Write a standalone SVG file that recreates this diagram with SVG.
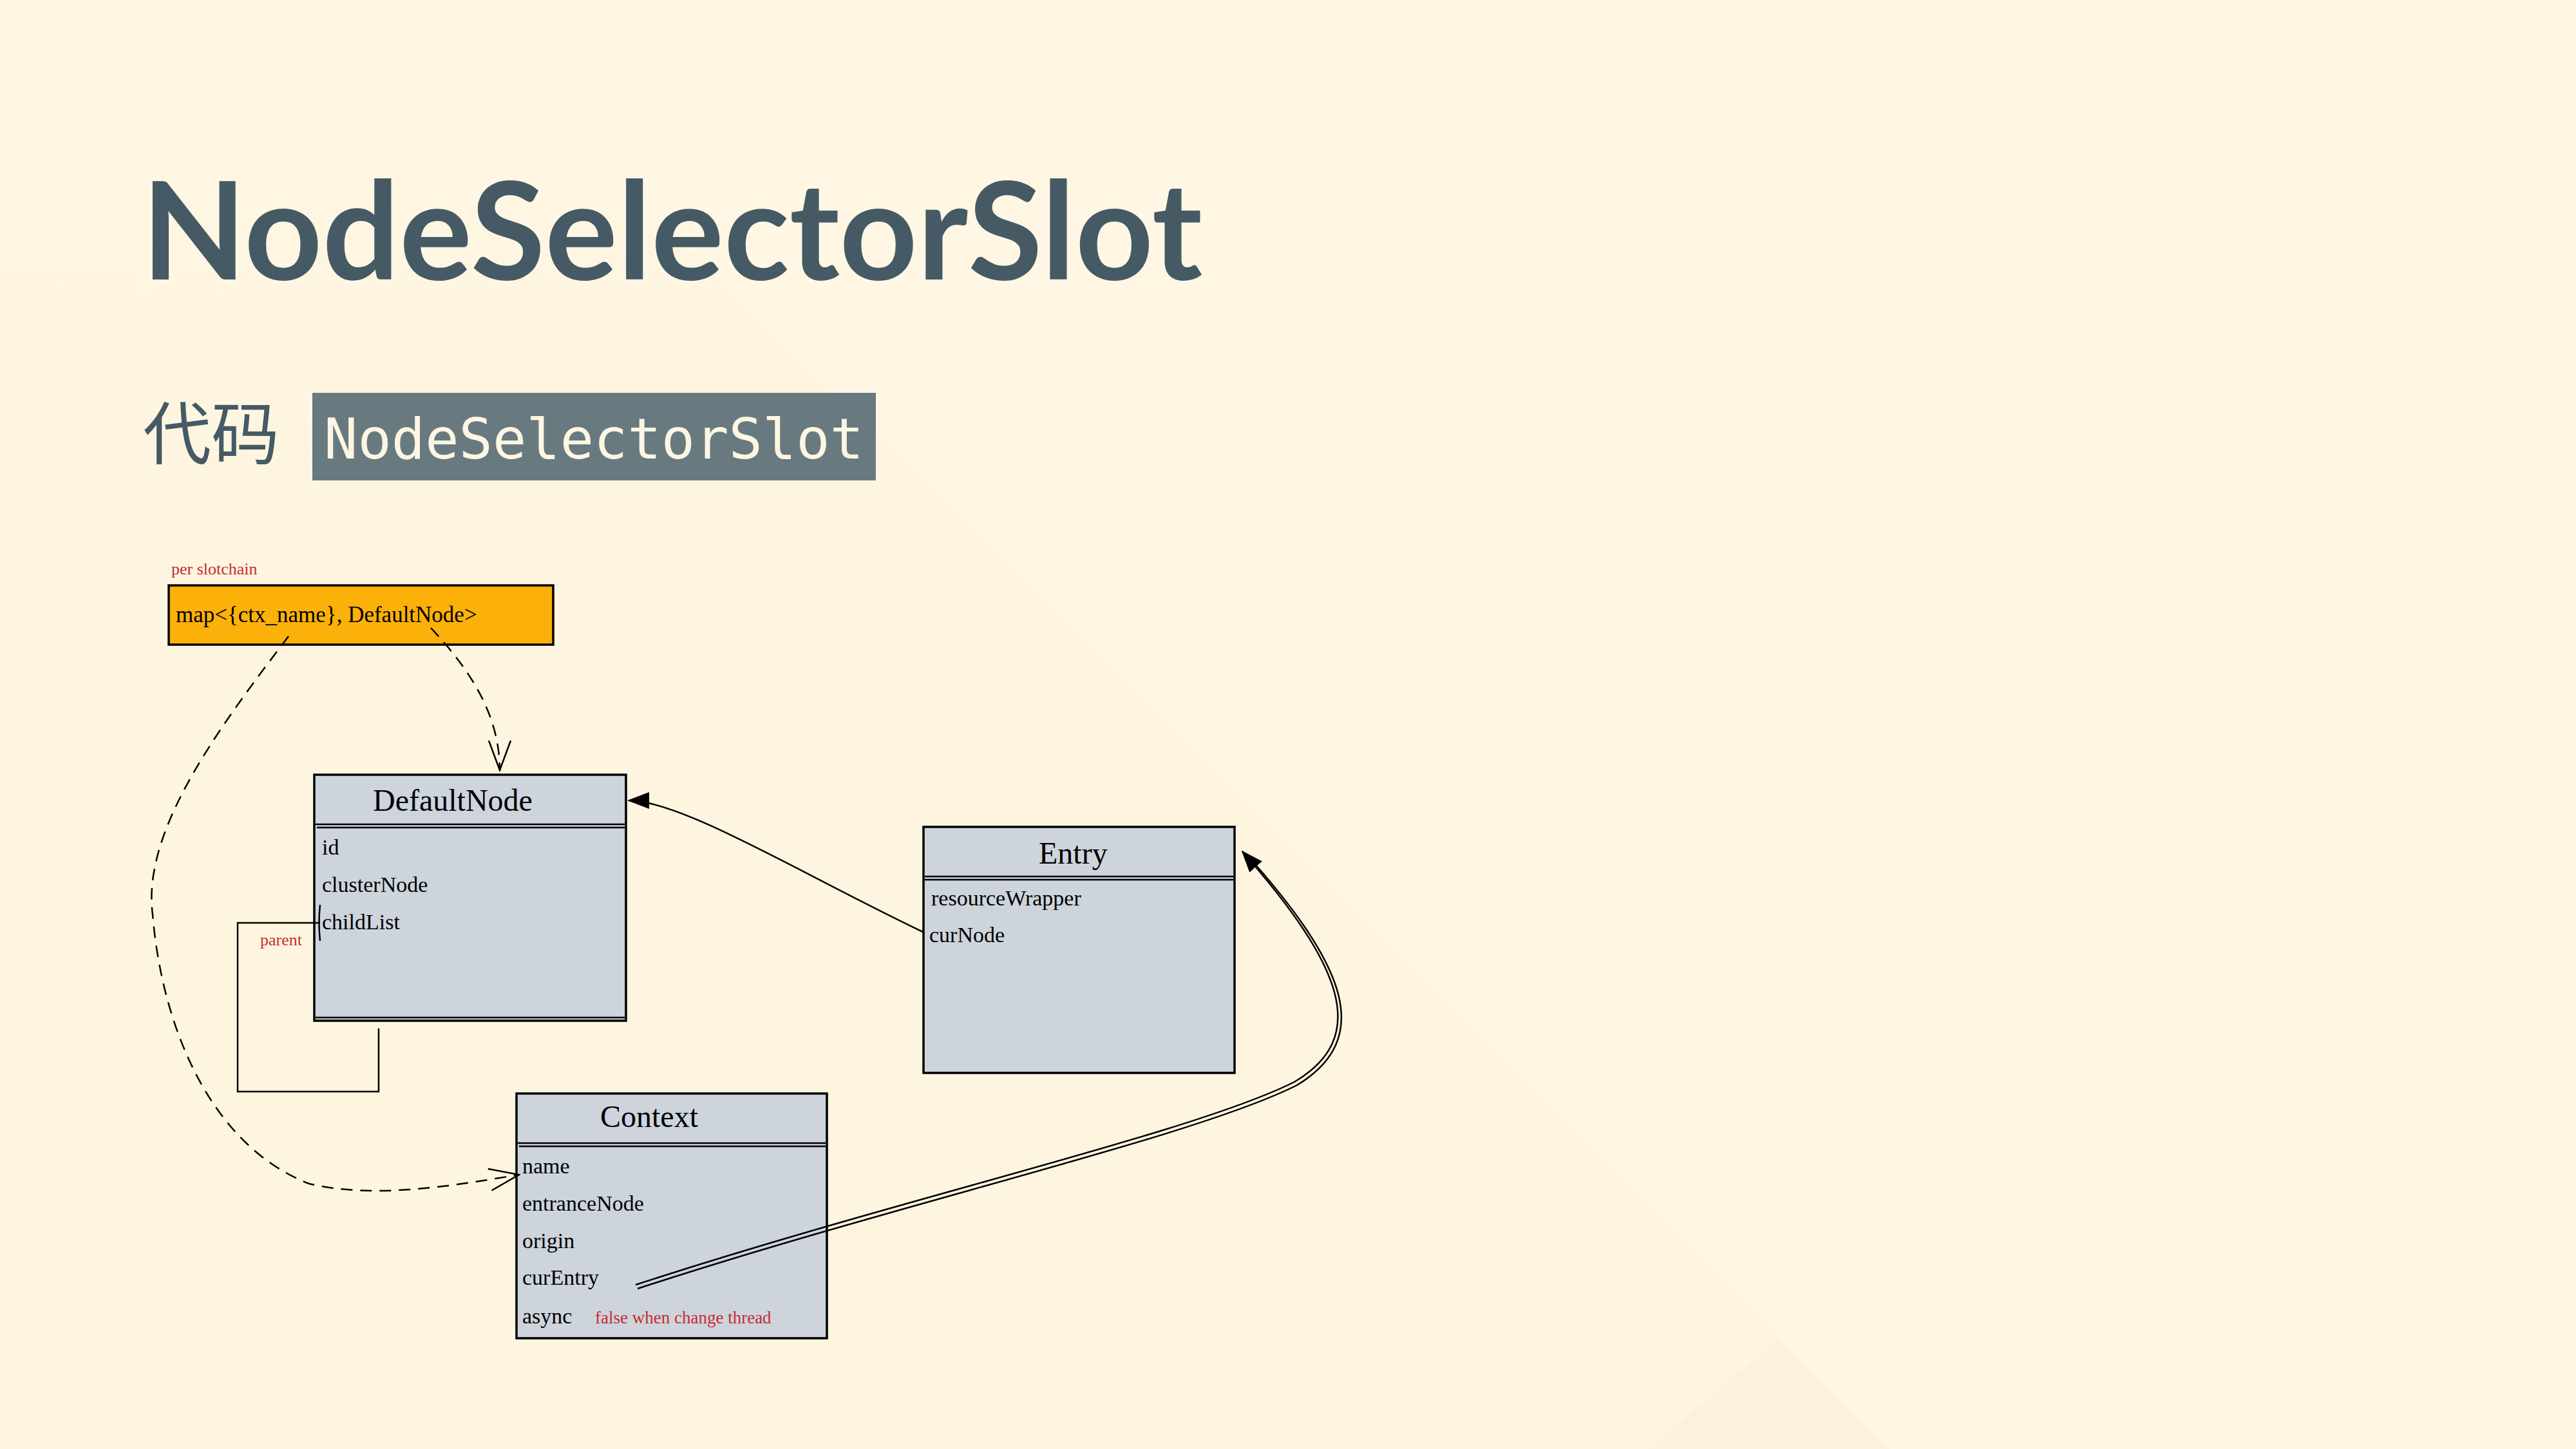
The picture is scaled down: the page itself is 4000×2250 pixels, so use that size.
<svg xmlns="http://www.w3.org/2000/svg" width="4000" height="2250" viewBox="0 0 4000 2250">
<defs>
<style>
.title{font-family:Lato,"Liberation Sans",sans-serif;font-weight:700;fill:#455a64}
.cjk{font-family:"Noto Sans CJK SC","Noto Sans",sans-serif;fill:#455a64}
.mono{font-family:"DejaVu Sans Mono","Liberation Mono",monospace;fill:#fdf6e3}
.serif{font-family:"Liberation Serif","Times New Roman",serif;fill:#000}
.red{font-family:"Liberation Serif","Times New Roman",serif;fill:#c62c2f}
.box{fill:#cdd4dc;stroke:#000;stroke-width:3.5}
.div{stroke:#000;stroke-width:2.5;fill:none}
.conn{fill:none;stroke:#000;stroke-width:2.5}
.dash{fill:none;stroke:#000;stroke-width:2.5;stroke-dasharray:18 12}
</style>
<linearGradient id="fade" x1="0" y1="0" x2="0" y2="1" gradientUnits="objectBoundingBox">
<stop offset="0" stop-color="#fdf5e0" stop-opacity="0"/>
<stop offset="0.35" stop-color="#fdf5e0" stop-opacity="1"/>
<stop offset="1" stop-color="#fdf5e0" stop-opacity="1"/>
</linearGradient>
<marker id="openArrow" viewBox="0 0 50 40" refX="48" refY="20" markerWidth="50" markerHeight="40" markerUnits="userSpaceOnUse" orient="auto">
<path d="M2,3 L48,20 L2,37" fill="none" stroke="#000" stroke-width="2.5"/>
</marker>
<marker id="fillArrow" viewBox="0 0 34 28" refX="32" refY="14" markerWidth="34" markerHeight="28" markerUnits="userSpaceOnUse" orient="auto">
<path d="M0,1 L34,14 L0,27 Z" fill="#000"/>
</marker>
<marker id="bar" viewBox="0 0 10 60" refX="5" refY="30" markerWidth="10" markerHeight="60" markerUnits="userSpaceOnUse" orient="auto">
<path d="M5,2 Q2,30 5,58" fill="none" stroke="#000" stroke-width="2.5"/>
</marker>
</defs>

<rect x="0" y="0" width="4000" height="2250" fill="#fff7e3"/>
<polygon points="687,0 2934,2250 0,2250 0,0" fill="url(#fade)"/>
<polygon points="2560,2250 2760,2080 2934,2250" fill="#fbf2dd"/>

<g id="title">
<text class="title" x="220" y="434" font-size="211">NodeSelectorSlot</text>
</g>
<g id="subtitle">
<text class="cjk" x="222" y="712" font-size="106">代码</text>
<rect x="485" y="610" width="875" height="136" fill="#687a7f"/>
<text class="mono" x="503" y="712" font-size="87">NodeSelectorSlot</text>
</g>

<g id="map">
<text class="red" x="266" y="892" font-size="26">per slotchain</text>
<rect x="262" y="909" width="597" height="92" fill="#fcb00a" stroke="#000" stroke-width="3.5"/>
<text class="serif" x="273" y="966" font-size="35">map&lt;{ctx_name}, DefaultNode&gt;</text>
</g>

<g id="defaultnode">
<rect class="box" x="488" y="1203" width="484" height="382"/>
<line class="div" x1="490" y1="1280" x2="970" y2="1280"/>
<line class="div" x1="492" y1="1285" x2="970" y2="1285"/>
<line class="div" x1="490" y1="1580" x2="970" y2="1580"/>
<text class="serif" x="579" y="1259" font-size="48">DefaultNode</text>
<text class="serif" x="500" y="1327" font-size="34">id</text>
<text class="serif" x="500" y="1385" font-size="34">clusterNode</text>
<text class="serif" x="500" y="1443" font-size="34">childList</text>
</g>

<g id="entry">
<rect class="box" x="1434" y="1284" width="483" height="382"/>
<line class="div" x1="1436" y1="1361" x2="1915" y2="1361"/>
<line class="div" x1="1436" y1="1366" x2="1915" y2="1366"/>
<text class="serif" x="1613" y="1341" font-size="48">Entry</text>
<text class="serif" x="1446" y="1406" font-size="34">resourceWrapper</text>
<text class="serif" x="1443" y="1463" font-size="34">curNode</text>
</g>

<g id="context">
<rect class="box" x="802" y="1698" width="482" height="380"/>
<line class="div" x1="804" y1="1775" x2="1282" y2="1775"/>
<line class="div" x1="806" y1="1780" x2="1282" y2="1780"/>
<text class="serif" x="932" y="1750" font-size="48">Context</text>
<text class="serif" x="811" y="1822" font-size="34">name</text>
<text class="serif" x="811" y="1880" font-size="34">entranceNode</text>
<text class="serif" x="811" y="1938" font-size="34">origin</text>
<text class="serif" x="811" y="1995" font-size="34">curEntry</text>
<text class="serif" x="811" y="2055" font-size="34">async</text>
<text class="red" x="924" y="2055" font-size="27">false when change thread</text>
</g>

<g id="connectors">
<path class="dash" d="M669,975 C730,1040 776,1110 776,1196" marker-end="url(#openArrow)"/>
<path class="dash" d="M448,988 C340,1130 220,1290 237,1420 C252,1600 330,1780 480,1838 C580,1862 700,1842 806,1824" marker-end="url(#openArrow)"/>
<path class="conn" d="M588,1597 L588,1695 L369,1695 L369,1433 L497,1433" marker-end="url(#bar)"/>
<path class="conn" d="M1433,1447 C1250,1360 1060,1243 976,1243" marker-end="url(#fillArrow)"/>
<path class="conn" stroke-width="2" d="M987,1995 C1400,1860 1850,1760 2010,1680 C2128,1610 2085,1500 1929,1322" marker-end="url(#fillArrow)"/>
<path class="conn" stroke-width="2" d="M990,2001 C1403,1866 1853,1766 2014,1685 C2134,1612 2091,1500 1934,1325"/>
<text class="red" x="404" y="1468" font-size="26">parent</text>
</g>
</svg>
